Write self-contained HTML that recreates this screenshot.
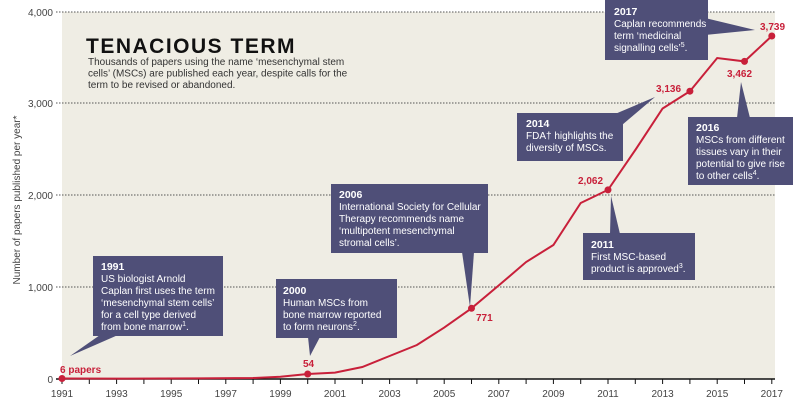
<!DOCTYPE html>
<html><head><meta charset="utf-8"><style>
body{margin:0;background:#fff;}
svg{display:block;font-family:"Liberation Sans",sans-serif;}
.bt{font-size:10px;fill:#fff;}
.bb{font-size:10.5px;fill:#fff;font-weight:bold;}
.lab{font-size:10px;fill:#c8203a;font-weight:bold;}
.ax{font-size:10px;fill:#444;}
</style></head><body>
<svg width="800" height="408" viewBox="0 0 800 408">
<rect x="62" y="12" width="713" height="367" fill="#efede4"/>
<g stroke="#555" stroke-width="1" stroke-dasharray="1.5,1.5">
<line x1="56" y1="12" x2="775" y2="12"/>
<line x1="56" y1="103" x2="775" y2="103"/>
<line x1="56" y1="195" x2="775" y2="195"/>
<line x1="56" y1="287" x2="775" y2="287"/>
</g>
<g class="ax" text-anchor="end">
<text x="53" y="16">4,000</text><text x="53" y="107">3,000</text>
<text x="53" y="199">2,000</text><text x="53" y="291">1,000</text><text x="53" y="383">0</text>
</g>
<text class="ax" transform="translate(20,200) rotate(-90)" text-anchor="middle" font-size="9.5">Number of papers published per year*</text>
<line x1="56" y1="379" x2="775" y2="379" stroke="#111" stroke-width="1.5"/>
<g stroke="#111" stroke-width="1">
<line x1="62" y1="379" x2="62" y2="384"/><line x1="89.3" y1="379" x2="89.3" y2="384"/><line x1="116.6" y1="379" x2="116.6" y2="384"/><line x1="143.9" y1="379" x2="143.9" y2="384"/><line x1="171.2" y1="379" x2="171.2" y2="384"/><line x1="198.5" y1="379" x2="198.5" y2="384"/><line x1="225.8" y1="379" x2="225.8" y2="384"/><line x1="253.1" y1="379" x2="253.1" y2="384"/><line x1="280.4" y1="379" x2="280.4" y2="384"/><line x1="307.7" y1="379" x2="307.7" y2="384"/><line x1="335" y1="379" x2="335" y2="384"/><line x1="362.3" y1="379" x2="362.3" y2="384"/><line x1="389.6" y1="379" x2="389.6" y2="384"/><line x1="416.9" y1="379" x2="416.9" y2="384"/><line x1="444.2" y1="379" x2="444.2" y2="384"/><line x1="471.5" y1="379" x2="471.5" y2="384"/><line x1="498.8" y1="379" x2="498.8" y2="384"/><line x1="526.1" y1="379" x2="526.1" y2="384"/><line x1="553.4" y1="379" x2="553.4" y2="384"/><line x1="580.7" y1="379" x2="580.7" y2="384"/><line x1="608" y1="379" x2="608" y2="384"/><line x1="635.3" y1="379" x2="635.3" y2="384"/><line x1="662.6" y1="379" x2="662.6" y2="384"/><line x1="689.9" y1="379" x2="689.9" y2="384"/><line x1="717.2" y1="379" x2="717.2" y2="384"/><line x1="744.5" y1="379" x2="744.5" y2="384"/><line x1="771.8" y1="379" x2="771.8" y2="384"/>
</g>
<g class="ax" text-anchor="middle">
<text x="62" y="397">1991</text><text x="116.6" y="397">1993</text><text x="171.2" y="397">1995</text><text x="225.8" y="397">1997</text><text x="280.4" y="397">1999</text><text x="335" y="397">2001</text><text x="389.6" y="397">2003</text><text x="444.2" y="397">2005</text><text x="498.8" y="397">2007</text><text x="553.4" y="397">2009</text><text x="608" y="397">2011</text><text x="662.6" y="397">2013</text><text x="717.2" y="397">2015</text><text x="771.8" y="397">2017</text>
</g>
<polyline fill="none" stroke="#c8203a" stroke-width="2" points="62,378.5 116.6,378.6 198.5,378.4 253.1,378 280.4,376.7 307.7,374 335,372.6 362.3,367 389.6,356 416.9,345 444.2,327.6 471.5,308.3 498.8,285.4 526.1,262 553.4,245 580.7,203 608,189.9 635.3,150 662.6,108.5 689.9,91.2 717.2,58 744.5,61.4 771.8,36"/>
<g fill="#c8203a">
<circle cx="62" cy="378.5" r="3.5"/><circle cx="307.7" cy="374" r="3.5"/><circle cx="471.5" cy="308.3" r="3.5"/><circle cx="608" cy="189.9" r="3.5"/><circle cx="689.9" cy="91.2" r="3.5"/><circle cx="744.5" cy="61.4" r="3.5"/><circle cx="771.8" cy="36" r="3.5"/>
</g>
<g class="lab">
<text x="60" y="373">6 papers</text><text x="303" y="367">54</text><text x="476" y="321">771</text><text x="578" y="184">2,062</text><text x="656" y="92">3,136</text><text x="727" y="77">3,462</text><text x="760" y="30">3,739</text>
</g>
<text x="86" y="53" font-size="21" font-weight="900" fill="#111" letter-spacing="1.5">TENACIOUS TERM</text>
<g font-size="10" fill="#333"><text x="88" y="65">Thousands of papers using the name ‘mesenchymal stem</text><text x="88" y="76.5">cells’ (MSCs) are published each year, despite calls for the</text><text x="88" y="88">term to be revised or abandoned.</text></g>
<g fill="#4f4f78">
<rect x="93" y="256" width="130" height="80"/><polygon points="100,335 118,335 70,356"/>
<rect x="276" y="279" width="121" height="59"/><polygon points="308,337 320,337 310,356"/>
<rect x="331" y="184" width="157" height="69"/><polygon points="462,252 474,252 470,307"/>
<rect x="517" y="113" width="106" height="48"/><polygon points="615,114 622,125 655,97"/>
<rect x="583" y="233" width="112" height="47"/><polygon points="610,234 620,234 611,196"/>
<rect x="605" y="0" width="103" height="60"/><polygon points="705,18 705,35 755,30"/>
<rect x="688" y="117" width="105" height="68"/><polygon points="737,118 750,118 741,82"/>
</g>
<g class="bt">
<text class="bb" x="101" y="270">1991</text><text x="101" y="282">US biologist Arnold</text><text x="101" y="294">Caplan first uses the term</text><text x="101" y="306">‘mesenchymal stem cells’</text><text x="101" y="318">for a cell type derived</text><text x="101" y="330">from bone marrow<tspan font-size="7" dy="-4">1</tspan><tspan dy="4">.</tspan></text>
<text class="bb" x="283" y="294">2000</text><text x="283" y="306">Human MSCs from</text><text x="283" y="318">bone marrow reported</text><text x="283" y="330">to form neurons<tspan font-size="7" dy="-4">2</tspan><tspan dy="4">.</tspan></text>
<text class="bb" x="339" y="198">2006</text><text x="339" y="210">International Society for Cellular</text><text x="339" y="222">Therapy recommends name</text><text x="339" y="234">‘multipotent mesenchymal</text><text x="339" y="246">stromal cells’.</text>
<text class="bb" x="526" y="127">2014</text><text x="526" y="139">FDA† highlights the</text><text x="526" y="151">diversity of MSCs.</text>
<text class="bb" x="591" y="248">2011</text><text x="591" y="260">First MSC-based</text><text x="591" y="272">product is approved<tspan font-size="7" dy="-4">3</tspan><tspan dy="4">.</tspan></text>
<text class="bb" x="614" y="15">2017</text><text x="614" y="27">Caplan recommends</text><text x="614" y="39">term ‘medicinal</text><text x="614" y="51">signalling cells’<tspan font-size="7" dy="-4">5</tspan><tspan dy="4">.</tspan></text>
<text class="bb" x="696" y="131">2016</text><text x="696" y="143">MSCs from different</text><text x="696" y="155">tissues vary in their</text><text x="696" y="167">potential to give rise</text><text x="696" y="179">to other cells<tspan font-size="7" dy="-4">4</tspan><tspan dy="4">.</tspan></text>
</g>
</svg>
</body></html>
